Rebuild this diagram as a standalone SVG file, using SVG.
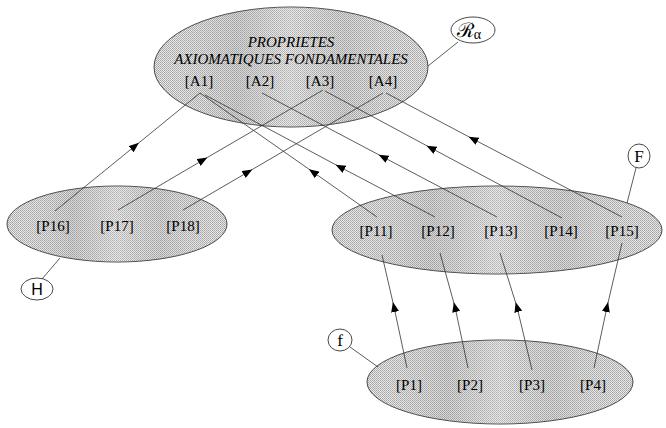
<svg xmlns="http://www.w3.org/2000/svg" width="666" height="428" viewBox="0 0 666 428">
  <defs>
    <pattern id="dither" width="2" height="2" patternUnits="userSpaceOnUse">
      <rect width="2" height="2" fill="#e8e8e8"/>
      <rect width="1" height="1" fill="#a4a4a4"/>
      <rect x="1" y="1" width="1" height="1" fill="#b0b0b0"/>
    </pattern>
    <linearGradient id="bands" x1="0" y1="0" x2="1" y2="0">
      <stop offset="0" stop-color="#ffffff" stop-opacity="0"/>
      <stop offset="0.3" stop-color="#808080" stop-opacity="0.15"/>
      <stop offset="0.5" stop-color="#ffffff" stop-opacity="0.15"/>
      <stop offset="0.7" stop-color="#808080" stop-opacity="0.12"/>
      <stop offset="1" stop-color="#ffffff" stop-opacity="0"/>
    </linearGradient>
    <marker id="arr" markerUnits="userSpaceOnUse" markerWidth="10" markerHeight="8" refX="5" refY="4" orient="auto">
      <path d="M0,0 L10,4 L0,8 z" fill="#000"/>
    </marker>
  </defs>
  <style>
    .set { fill: url(#dither); stroke: #4a4a4a; stroke-width: 1; }
    .shade { fill: url(#bands); stroke: none; }
    .tag { fill: #ffffff; stroke: #333; stroke-width: 0.9; }
    .lbl { font-family: "Liberation Serif", "Times New Roman", serif; font-size: 15px; fill: #000; text-anchor: middle; }
    .title { font-family: "Liberation Serif", "Times New Roman", serif; font-style: italic; font-size: 15px; fill: #000; text-anchor: middle; }
    .con { fill: none; stroke: #333; stroke-width: 0.8; }
    .arrow { marker-mid: url(#arr); }
  </style>

  <g id="axioms">
    <ellipse class="set" cx="291" cy="67" rx="137" ry="60"/>
    <ellipse class="shade" cx="291" cy="67" rx="137" ry="60"/>
    <text class="title" x="291" y="47">PROPRIETES</text>
    <text class="title" x="291" y="64">AXIOMATIQUES FONDAMENTALES</text>
    <text class="lbl" x="199" y="86">[A1]</text>
    <text class="lbl" x="260" y="86">[A2]</text>
    <text class="lbl" x="320" y="86">[A3]</text>
    <text class="lbl" x="383" y="86">[A4]</text>
  </g>

  <g id="tag-Ralpha">
    <ellipse class="tag" cx="473" cy="30" rx="22" ry="13"/>
    <text x="469" y="37" font-family="DejaVu Serif, serif" font-size="20" text-anchor="middle" fill="#000">ℛ<tspan font-family="Liberation Serif, serif" font-size="14" dy="2">α</tspan></text>
  </g>

  <g id="set-H">
    <ellipse class="set" cx="117" cy="224" rx="110" ry="38"/>
    <ellipse class="shade" cx="117" cy="224" rx="110" ry="38"/>
    <text class="lbl" x="53" y="231">[P16]</text>
    <text class="lbl" x="117" y="231">[P17]</text>
    <text class="lbl" x="183" y="231">[P18]</text>
  </g>

  <g id="tag-H">
    <ellipse class="tag" cx="37" cy="289" rx="16" ry="11"/>
    <text x="37" y="295" font-family="Liberation Sans, Arial, sans-serif" font-size="16" text-anchor="middle" fill="#000">H</text>
  </g>

  <g id="set-F">
    <ellipse class="set" cx="497" cy="230" rx="165" ry="44"/>
    <ellipse class="shade" cx="497" cy="230" rx="165" ry="44"/>
    <text class="lbl" x="376" y="236">[P11]</text>
    <text class="lbl" x="438" y="236">[P12]</text>
    <text class="lbl" x="501" y="236">[P13]</text>
    <text class="lbl" x="561" y="236">[P14]</text>
    <text class="lbl" x="622" y="236">[P15]</text>
  </g>

  <g id="tag-F">
    <ellipse class="tag" cx="639" cy="156" rx="11" ry="12"/>
    <text x="639" y="162" font-family="Liberation Serif, serif" font-size="17" text-anchor="middle" fill="#000">F</text>
  </g>

  <g id="set-f">
    <ellipse class="set" cx="500" cy="382" rx="133" ry="42"/>
    <ellipse class="shade" cx="500" cy="382" rx="133" ry="42"/>
    <text class="lbl" x="409" y="390">[P1]</text>
    <text class="lbl" x="470" y="390">[P2]</text>
    <text class="lbl" x="532" y="390">[P3]</text>
    <text class="lbl" x="593" y="390">[P4]</text>
  </g>

  <g id="tag-f">
    <ellipse class="tag" cx="340" cy="340" rx="12" ry="11"/>
    <text x="340" y="346" font-family="Liberation Serif, serif" font-size="17" text-anchor="middle" fill="#000">f</text>
  </g>

  <g id="connectors">
    <path class="con arrow" d="M55,211 L135,146 L200,93"/>
    <path class="con arrow" d="M118,210 L203,160 L323,90"/>
    <path class="con arrow" d="M183,210 L248,172 L383,93"/>
    <path class="con arrow" d="M377,217 L313,172 L200,93"/>
    <path class="con arrow" d="M435,217 L340,167 L205,95"/>
    <path class="con arrow" d="M497,217 L383,157 L262,93"/>
    <path class="con arrow" d="M562,218 L431,148 L325,91"/>
    <path class="con arrow" d="M622,217 L473,139 L386,93"/>
    <path class="con arrow" d="M407,368 L394,307 L382,255"/>
    <path class="con arrow" d="M468,368 L455,307 L440,253"/>
    <path class="con arrow" d="M532,370 L517,307 L500,253"/>
    <path class="con arrow" d="M594,368 L607,307 L622,243"/>
    <path class="con" d="M458,42 L428,66"/>
    <path class="con" d="M636,168 L627,203"/>
    <path class="con" d="M42,279 L60,258"/>
    <path class="con" d="M350,347 L378,367"/>
  </g>
</svg>
